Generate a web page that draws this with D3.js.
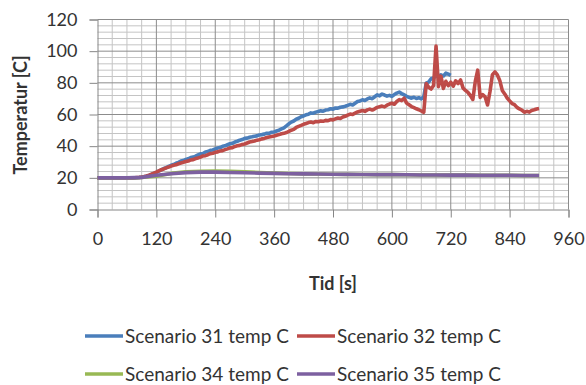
<!DOCTYPE html>
<html>
<head>
<meta charset="utf-8">
<script src="https://cdn.jsdelivr.net/npm/d3@7"></script>
<style>
  html, body { margin: 0; padding: 0; background: #fff; }
  svg { display: block; }
  text { font-family: Lato, "Open Sans", sans-serif; fill: #333; }
</style>
</head>
<body>
<svg id="chart" width="586" height="385"></svg>
<script>
// Temperature logs, sampled every 5 s (scenarios 31 and 32) and every 30 s (34 and 35).
const fineStep = 5;
const coarseStep = 30;

const scenario31 = [
  20.0,20.1,19.9,20.0,20.1,20.0,19.9,20.0,20.0,20.1,20.0,19.9,
  20.0,20.1,20.0,20.0,20.1,20.2,20.4,20.6,21.1,21.5,22.1,22.8,
  23.4,24.3,25.0,25.9,26.4,27.2,27.9,28.4,29.2,29.8,30.6,30.9,
  31.6,32.0,32.8,33.1,33.7,34.5,35.2,35.4,36.3,36.6,37.4,37.6,
  38.3,38.8,39.1,39.9,40.2,40.9,41.5,41.8,42.6,43.1,43.8,44.2,
  44.9,45.1,45.6,45.9,46.3,46.5,47.1,47.3,47.6,48.2,48.1,48.8,
  49.0,49.6,50.1,50.9,51.6,52.8,54.1,55.2,55.9,57.0,57.6,58.6,
  59.1,59.8,60.2,61.0,60.8,61.5,61.9,62.3,62.1,62.8,63.0,63.6,
  63.4,64.1,64.0,64.6,64.8,65.2,65.8,66.4,66.0,67.1,68.2,68.6,
  69.3,68.8,69.8,70.5,70.0,71.2,72.4,71.8,72.9,72.3,71.6,72.1,
  71.4,72.6,73.5,74.1,73.2,72.4,71.5,70.8,70.3,70.9,70.1,70.6,
  69.9,71.2,79.8,80.5,82.6,83.1,84.5,84.0,85.1,84.3,86.2,85.5,
  84.7
];

const scenario32 = [
  20.0,19.9,20.0,20.1,20.0,19.9,20.0,20.1,20.0,20.0,19.9,20.0,
  20.1,20.0,20.0,20.1,20.2,20.3,20.5,20.8,21.2,21.7,22.3,22.9,
  23.6,24.4,25.1,25.6,26.3,26.8,27.4,27.9,28.2,28.9,29.4,29.8,
  30.3,30.6,31.3,31.5,32.2,32.6,33.1,33.8,34.0,34.6,35.3,35.5,
  36.1,36.4,37.0,37.2,37.8,38.3,38.9,39.1,39.8,40.2,40.5,41.1,
  41.4,42.0,42.6,42.9,43.3,43.8,44.1,44.6,44.9,45.5,45.8,46.1,
  46.4,46.9,47.3,47.8,48.1,48.6,49.3,50.1,50.6,51.8,52.5,53.1,
  53.8,54.3,54.9,55.2,54.8,55.6,55.4,55.9,55.7,56.3,56.1,56.8,
  56.6,57.2,57.8,57.5,58.4,58.9,59.6,60.3,60.0,60.9,61.6,62.1,
  62.5,62.0,62.9,63.4,62.8,63.6,64.5,64.9,65.3,64.8,65.9,66.6,
  67.1,66.5,68.2,69.4,68.8,70.3,67.2,66.1,65.0,64.3,63.6,63.0,
  62.2,61.4,79.5,77.2,76.1,78.3,103.2,77.6,84.2,76.4,81.0,78.2,
  80.4,77.9,81.3,79.6,81.8,76.8,75.2,73.9,72.0,69.5,80.9,88.0,
  70.8,72.6,71.2,66.0,74.5,85.2,86.9,85.0,81.4,75.2,73.0,70.4,
  68.6,66.9,66.2,64.5,63.5,62.8,61.4,62.0,61.5,62.6,63.0,63.5,
  63.8
];

const scenario34 = [
  20.0,20.0,20.0,20.2,21.0,22.8,23.8,24.2,24.3,24.1,23.8,23.4,
  23.0,22.7,22.5,22.4,22.3,22.2,22.1,22.0,22.0,21.9,21.8,21.8,
  21.7,21.7,21.6,21.6,21.6,21.5,21.5
];

const scenario35 = [
  20.0,20.0,20.0,20.3,21.6,22.6,23.3,23.6,23.6,23.4,23.2,23.0,
  22.8,22.6,22.5,22.4,22.3,22.2,22.1,22.0,22.0,21.9,21.8,21.8,
  21.7,21.7,21.6,21.6,21.6,21.5,21.5
];

const seriesNames = ["Scenario 31 temp C", "Scenario 32 temp C", "Scenario 34 temp C", "Scenario 35 temp C"];
const seriesColors = ["#4a7ebb", "#be4b48", "#98b954", "#7d60a0"];
const timeTicks = [0, 120, 240, 360, 480, 600, 720, 840, 960];
const tempTicks = [0, 20, 40, 60, 80, 100, 120];

const series = [
  { name: seriesNames[0], color: seriesColors[0], step: fineStep, values: scenario31 },
  { name: seriesNames[1], color: seriesColors[1], step: fineStep, values: scenario32 },
  { name: seriesNames[2], color: seriesColors[2], step: coarseStep, values: scenario34 },
  { name: seriesNames[3], color: seriesColors[3], step: coarseStep, values: scenario35 }
];

const svg = d3.select("#chart");
const x = d3.scaleLinear().domain([0, 960]).range([97.5, 568.5]);
const y = d3.scaleLinear().domain([0, 120]).range([209.5, 19.5]);

// Grid: minor lines every 30 s / 4 °C, major lines at the labelled ticks
const grid = svg.append("g");
grid.selectAll(".vminor").data(d3.range(0, 961, 30).filter(t => t % 120 !== 0))
  .join("line").attr("x1", d => x(d)).attr("x2", d => x(d))
  .attr("y1", y(0)).attr("y2", y(120)).attr("stroke", "#c4c4c4").attr("stroke-width", 1);
grid.selectAll(".hminor").data(d3.range(0, 121, 4).filter(v => v % 20 !== 0))
  .join("line").attr("x1", x(0)).attr("x2", x(960))
  .attr("y1", d => y(d)).attr("y2", d => y(d)).attr("stroke", "#c4c4c4").attr("stroke-width", 1);
grid.selectAll(".vmajor").data(timeTicks.slice(1))
  .join("line").attr("x1", d => x(d)).attr("x2", d => x(d))
  .attr("y1", y(0)).attr("y2", y(120)).attr("stroke", "#8c8c8c").attr("stroke-width", 1);
grid.selectAll(".hmajor").data(tempTicks.slice(1))
  .join("line").attr("x1", x(0)).attr("x2", x(960))
  .attr("y1", d => y(d)).attr("y2", d => y(d)).attr("stroke", "#8c8c8c").attr("stroke-width", 1);

// Axes
const xAxis = svg.append("g").attr("transform", `translate(0,${y(0)})`)
  .call(d3.axisBottom(x).tickValues(timeTicks).tickSize(8).tickPadding(15));
const yAxis = svg.append("g").attr("transform", `translate(${x(0)},0)`)
  .call(d3.axisLeft(y).tickValues(tempTicks).tickSize(8).tickPadding(12));
[xAxis, yAxis].forEach(a => {
  a.select(".domain").attr("stroke", "#868686");
  a.selectAll(".tick line").attr("stroke", "#868686");
  a.selectAll(".tick text").attr("font-family", "Lato, sans-serif").attr("font-size", 18).attr("fill", "#333");
});

// Temperature curves
const line = d3.line().x(d => d.x).y(d => d.y);
series.forEach(s => {
  const pts = s.values.map((v, i) => ({ x: x(i * s.step), y: y(v) }));
  svg.append("path").datum(pts)
    .attr("d", line).attr("fill", "none")
    .attr("stroke", s.color).attr("stroke-width", 3.6)
    .attr("stroke-linejoin", "round");
});

// Axis titles
svg.append("text").attr("x", 333).attr("y", 290).attr("text-anchor", "middle")
  .attr("font-size", 18).attr("font-weight", "bold").text("Tid [s]");
svg.append("text").attr("transform", "translate(27,115) rotate(-90)").attr("text-anchor", "middle")
  .attr("font-size", 18).attr("font-weight", "bold").text("Temperatur [C]");

// Legend, two rows of two
const legendPos = [[85, 336], [297, 336], [85, 374], [297, 374]];
series.forEach((s, i) => {
  const [lx, ly] = legendPos[i];
  svg.append("line").attr("x1", lx).attr("x2", lx + 38).attr("y1", ly).attr("y2", ly)
    .attr("stroke", s.color).attr("stroke-width", 3.6);
  svg.append("text").attr("x", lx + 40).attr("y", ly + 7)
    .attr("font-size", 19).text(s.name);
});
</script>
</body>
</html>
